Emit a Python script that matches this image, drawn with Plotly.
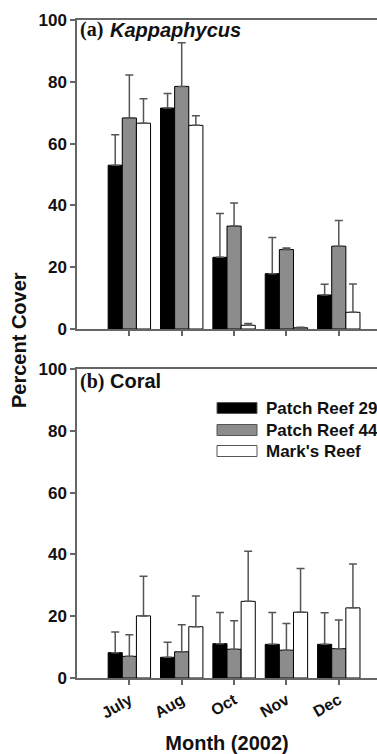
import plotly.graph_objects as go

months = ["July", "Aug", "Oct", "Nov", "Dec"]
series = ["Patch Reef 29", "Patch Reef 44", "Mark's Reef"]

kappa_pr29 = [53.0, 71.5, 23.2, 17.9, 11.0]
kappa_pr29_se = [9.9, 4.7, 14.2, 11.7, 3.5]
kappa_pr44 = [68.3, 78.5, 33.3, 25.7, 26.8]
kappa_pr44_se = [13.9, 14.1, 7.5, 0.5, 8.3]
kappa_mark = [66.6, 65.9, 1.2, 0.4, 5.4]
kappa_mark_se = [7.9, 3.1, 0.6, 0.2, 9.2]

coral_pr29 = [8.2, 6.7, 11.1, 10.9, 10.9]
coral_pr29_se = [6.7, 4.9, 10.1, 10.3, 10.2]
coral_pr44 = [7.0, 8.5, 9.3, 9.0, 9.5]
coral_pr44_se = [7.0, 8.7, 9.2, 8.6, 9.3]
coral_mark = [20.1, 16.6, 24.8, 21.3, 22.7]
coral_mark_se = [12.8, 9.9, 16.2, 14.1, 14.2]

y_ticks = [0, 20, 40, 60, 80, 100]

fills = ["#000000", "#8c8c8c", "#ffffff"]
W, H = 377, 754
ML, MR, MT, MB = 77, 0, 20, 76
PW, PH = W - ML - MR, H - MT - MB

def px_x(x):
    return (x - ML) / PW

def px_y(y):
    return (H - MB - y) / PH

fig = go.Figure()
panels = [
    ([kappa_pr29, kappa_pr44, kappa_mark], [kappa_pr29_se, kappa_pr44_se, kappa_mark_se], "x", "y"),
    ([coral_pr29, coral_pr44, coral_mark], [coral_pr29_se, coral_pr44_se, coral_mark_se], "x2", "y2"),
]
for vals, errs, xa, ya in panels:
    for name, v, e, c in zip(series, vals, errs, fills):
        fig.add_trace(go.Bar(
            x=months, y=v, name=name, xaxis=xa, yaxis=ya,
            marker=dict(color=c, line=dict(color="#000000", width=1)),
            error_y=dict(type="data", array=e, symmetric=False, arrayminus=[0]*len(e),
                         color="#555555", thickness=1.5, width=4),
            showlegend=False,
        ))

font_main = "Liberation Sans, Arial, sans-serif"
axis_common = dict(showline=True, linecolor="#666666", linewidth=1.5, ticks="outside",
                   ticklen=5, tickcolor="#666666", tickwidth=1.5, showgrid=False, zeroline=False)
xr = [-1.0, 4.73]
fig.update_layout(
    width=W, height=H, margin=dict(l=ML, r=MR, t=MT, b=MB),
    plot_bgcolor="white", paper_bgcolor="white",
    barmode="group", bargap=0.19, bargroupgap=0,
    font=dict(family=font_main, color="#111111"),
    xaxis=dict(domain=[0, 1], anchor="y", range=xr, type="category", showticklabels=False,
               mirror=True, **axis_common),
    yaxis=dict(domain=[px_y(329), 1], anchor="x", range=[0, 100], tickvals=y_ticks,
               tickfont=dict(size=17, weight="bold"), **axis_common),
    xaxis2=dict(domain=[0, 1], anchor="y2", range=xr, type="category", tickangle=-30,
                mirror=True, tickfont=dict(size=16, weight="bold"),
                title=dict(text="Month (2002)", font=dict(size=20, weight="bold"), standoff=16),
                **axis_common),
    yaxis2=dict(domain=[0, px_y(369)], anchor="x2", range=[0, 100], tickvals=y_ticks,
                tickfont=dict(size=17, weight="bold"), **axis_common),
)

annotations = [
    dict(text="(a)", x=px_x(78), y=px_y(30), font=dict(family="Liberation Serif, Times New Roman, serif", size=20, weight="bold")),
    dict(text="<i>Kappaphycus</i>", x=px_x(108), y=px_y(30), font=dict(family=font_main, size=20, weight="bold")),
    dict(text="(b)", x=px_x(78), y=px_y(381), font=dict(family="Liberation Serif, Times New Roman, serif", size=20, weight="bold")),
    dict(text="Coral", x=px_x(108), y=px_y(381), font=dict(family=font_main, size=20, weight="bold")),
    dict(text="Percent Cover", x=px_x(19), y=px_y(340), textangle=-90, xanchor="center",
         font=dict(family=font_main, size=20, weight="bold")),
]
shapes = []
leg_y = [408, 430, 451]
for name, c, ly in zip(series, fills, leg_y):
    shapes.append(dict(type="rect", xref="paper", yref="paper", x0=px_x(217), x1=px_x(257),
                       y0=px_y(ly + 5.5), y1=px_y(ly - 5.5),
                       fillcolor=c, line=dict(color="#555555", width=1)))
    annotations.append(dict(text=name, x=px_x(264), y=px_y(ly),
                            font=dict(family=font_main, size=17, weight="bold")))
for a in annotations:
    a.setdefault("xanchor", "left")
    a.update(xref="paper", yref="paper", yanchor="middle", showarrow=False)
fig.update_layout(annotations=annotations, shapes=shapes)

fig.write_html("out.html")
